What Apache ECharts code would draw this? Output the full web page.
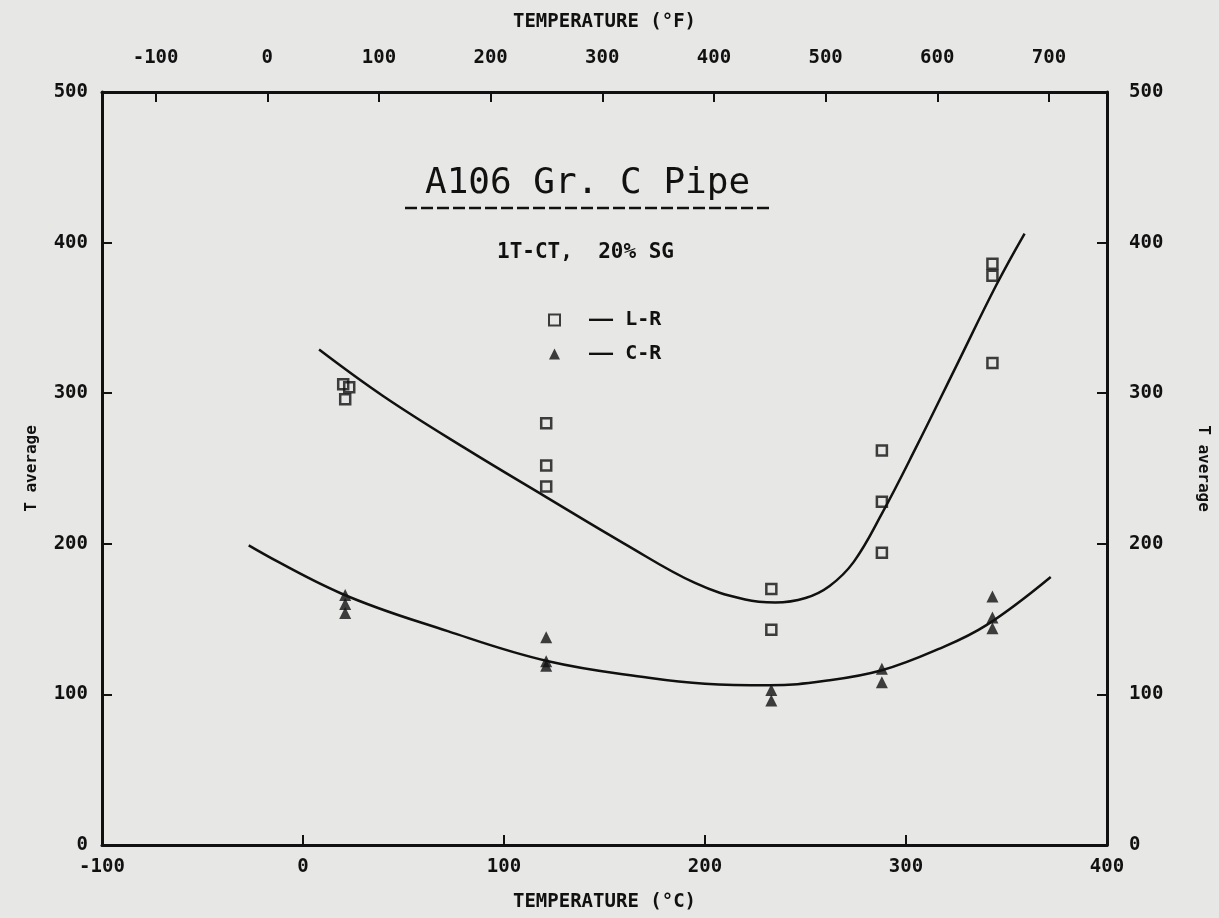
<!DOCTYPE html>
<html>
<head>
<meta charset="utf-8">
<script src="https://cdn.jsdelivr.net/npm/echarts@6/dist/echarts.min.js"></script>
<style>
  html, body { margin: 0; padding: 0; background: #e7e7e5; }
  #chart { width: 1219px; height: 918px; }
</style>
</head>
<body>
<div id="chart"></div>
<script>
// measured points, temperature in degC, T average
const lrData = [
  [20, 306], [23, 304], [21, 296],
  [121, 280], [121, 252], [121, 238],
  [233, 170], [233, 143],
  [288, 262], [288, 228], [288, 194],
  [343, 386], [343, 378], [343, 320]
]
const crData = [
  [21, 166], [21, 160], [21, 154],
  [121, 138], [121, 122], [121, 119],
  [233, 103], [233, 96],
  [288, 117], [288, 108],
  [343, 165], [343, 151], [343, 144]
]
// fitted curves
const lrCurve = [
  [8, 329], [40, 298], [80, 264], [121, 231], [160, 200], [195, 174],
  [220, 163], [235, 161], [250, 164], [262, 172], [274, 188], [288, 220],
  [305, 264], [325, 318], [345, 372], [359, 406]
]
const crCurve = [
  [-27, 199], [19, 167], [72, 142], [122, 122], [172, 111], [200, 107],
  [232, 106], [260, 109], [288, 116], [316, 130], [340, 146], [372, 178]
]
// top axis in degF
const fTicks = [-100, 0, 100, 200, 300, 400, 500, 600, 700]

const font = "DejaVu Sans Mono"
const black = "#111"

let myChart = echarts.init(document.getElementById("chart"))
myChart.setOption({
  backgroundColor: "#e7e7e5",
  animation: false,
  grid: { left: 102, right: 112, top: 92, bottom: 73 },
  legend: {
    orient: "vertical",
    left: 543,
    top: 305,
    itemWidth: 11,
    itemHeight: 11,
    itemGap: 14,
    data: ["L-R", "C-R"],
    formatter: name => "  \u2014\u2014 " + name,
    textStyle: { fontFamily: font, fontWeight: "bold", fontSize: 20, color: black }
  },
  graphic: [
    {
      type: "text",
      left: 425,
      top: 166,
      style: { text: "A106 Gr. C Pipe", fontFamily: font, fontSize: 36, fill: black }
    },
    {
      type: "line",
      shape: { x1: 405, y1: 208, x2: 770, y2: 208 },
      style: { stroke: black, lineWidth: 2.5, lineDash: [12, 4] }
    },
    {
      type: "text",
      left: 497,
      top: 242,
      style: { text: "1T-CT,  20% SG", fontFamily: font, fontWeight: "bold", fontSize: 21, fill: black }
    }
  ],
  xAxis: [
    {
      type: "value",
      position: "bottom",
      min: -100,
      max: 400,
      interval: 100,
      name: "TEMPERATURE (\u00b0C)",
      nameLocation: "middle",
      nameGap: 48,
      nameTextStyle: { fontFamily: font, fontWeight: "bold", fontSize: 19, color: black },
      axisLine: { onZero: false, lineStyle: { color: black, width: 3 } },
      axisTick: { inside: true, length: 10, lineStyle: { color: black, width: 2 } },
      axisLabel: { margin: 13, fontFamily: font, fontWeight: "bold", fontSize: 19, color: black },
      splitLine: { show: false }
    },
    {
      type: "value",
      position: "top",
      min: -148,
      max: 752,
      name: "TEMPERATURE (\u00b0F)",
      nameLocation: "middle",
      nameGap: 60,
      nameTextStyle: { fontFamily: font, fontWeight: "bold", fontSize: 19, color: black },
      axisLine: { onZero: false, lineStyle: { color: black, width: 3 } },
      axisTick: { inside: true, length: 10, customValues: fTicks, lineStyle: { color: black, width: 2 } },
      axisLabel: { margin: 24, customValues: fTicks, fontFamily: font, fontWeight: "bold", fontSize: 19, color: black },
      splitLine: { show: false }
    }
  ],
  yAxis: [
    {
      type: "value",
      position: "left",
      min: 0,
      max: 500,
      interval: 100,
      name: "T average",
      nameLocation: "middle",
      nameGap: 62,
      nameTextStyle: { fontFamily: font, fontWeight: "bold", fontSize: 16, color: black },
      axisLine: { onZero: false, lineStyle: { color: black, width: 3 } },
      axisTick: { inside: true, length: 10, lineStyle: { color: black, width: 2 } },
      axisLabel: { margin: 14, fontFamily: font, fontWeight: "bold", fontSize: 19, color: black },
      splitLine: { show: false }
    },
    {
      type: "value",
      position: "right",
      min: 0,
      max: 500,
      interval: 100,
      name: "T average",
      nameLocation: "middle",
      nameGap: 88,
      nameRotate: -90,
      nameTextStyle: { fontFamily: font, fontWeight: "bold", fontSize: 16, color: black },
      axisLine: { onZero: false, lineStyle: { color: black, width: 3 } },
      axisTick: { inside: true, length: 10, lineStyle: { color: black, width: 2 } },
      axisLabel: { margin: 22, fontFamily: font, fontWeight: "bold", fontSize: 19, color: black },
      splitLine: { show: false }
    }
  ],
  series: [
    {
      name: "L-R",
      type: "scatter",
      data: lrData,
      symbol: "rect",
      symbolSize: 10,
      itemStyle: { color: "rgba(0,0,0,0)", borderColor: black, borderWidth: 2.5 },
      z: 3
    },
    {
      name: "C-R",
      type: "scatter",
      data: crData,
      symbol: "triangle",
      symbolSize: 12,
      itemStyle: { color: black },
      z: 3
    },
    {
      name: "L-R fit",
      type: "line",
      data: lrCurve,
      smooth: 0.4,
      showSymbol: false,
      lineStyle: { color: black, width: 2.5 },
      z: 2
    },
    {
      name: "C-R fit",
      type: "line",
      data: crCurve,
      smooth: 0.4,
      showSymbol: false,
      lineStyle: { color: black, width: 2.5 },
      z: 2
    }
  ]
})
</script>
</body>
</html>
